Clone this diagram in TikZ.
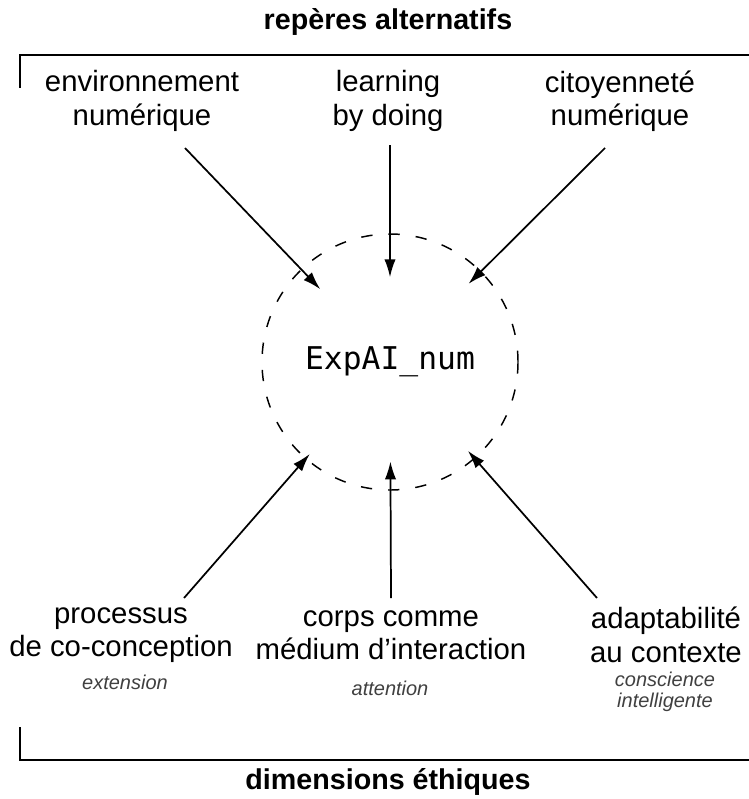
\documentclass[tikz,border=0pt]{standalone}
\usepackage{fontspec}
\setmainfont{Liberation Sans}
\newfontfamily\monofont{DejaVu Sans Mono}
\usetikzlibrary{arrows.meta}

\begin{document}
\begin{tikzpicture}[x=0.75pt,y=-0.75pt,
  lab/.style={align=center, inner sep=0pt, font=\fontsize{22}{25}\selectfont},
  sublab/.style={align=center, inner sep=0pt, text=black!75, font=\fontsize{15}{16}\selectfont\itshape},
  ttl/.style={inner sep=0pt, font=\fontsize{21.5}{25}\selectfont\bfseries},
  arr/.style={-{Latex[length=13.5pt,width=8.5pt]}, line width=1.3pt},
  brk/.style={line width=1.4pt}]
\useasboundingbox (0,0) rectangle (749,799);
% titles and brackets
\node[ttl] (alt) at (388,22) {repères alternatifs};
\node[ttl] (eth) at (388,782) {dimensions éthiques};
\draw[brk] (20,88) -- (20,55) -- (749,55);
\draw[brk] (20,727) -- (20,760) -- (749,760);
% centre
\node[draw, circle, dash pattern=on 8.5pt off 12pt, line width=1.1pt, inner sep=0pt, minimum size=192pt] (c) at (390,362) {\monofont\fontsize{23.5}{25}\selectfont ExpAI\_num};
% top labels
\node[lab] (env) at (142,101) {environnement\\numérique};
\node[lab] (lbd) at (388,101) {learning\\by doing};
\node[lab] (cit) at (620,101) {citoyenneté\\numérique};
% bottom labels
\node[lab] (proc) at (121,635) {processus\\de co-conception};
\node[sublab] (ext) at (125,682) {extension};
\node[lab] (corps) at (391,635) {corps comme\\médium d’interaction};
\node[sublab] (att) at (390,688) {attention};
\node[lab] (adap) at (666,635) {adaptabilité\\au contexte};
\node[sublab] (consc) at (665,692) {conscience\\intelligente};
% arrows
\coordinate (s1) at (185,148);
\coordinate (s2) at (390,145);
\coordinate (s3) at (605,148);
\coordinate (s4) at (184,598);
\coordinate (s5) at (391,598);
\coordinate (s6) at (597,598);
\draw[arr, shorten >=-21pt] (s1) -- (c);
\draw[arr, shorten >=-33pt] (s2) -- (c);
\draw[arr, shorten >=-13.5pt] (s3) -- (c);
\draw[arr, shorten >=-5pt] (s4) -- (c);
\draw[arr, shorten >=-22pt] (s5) -- (c);
\draw[arr, shorten >=-8pt] (s6) -- (c);
\end{tikzpicture}
\end{document}
